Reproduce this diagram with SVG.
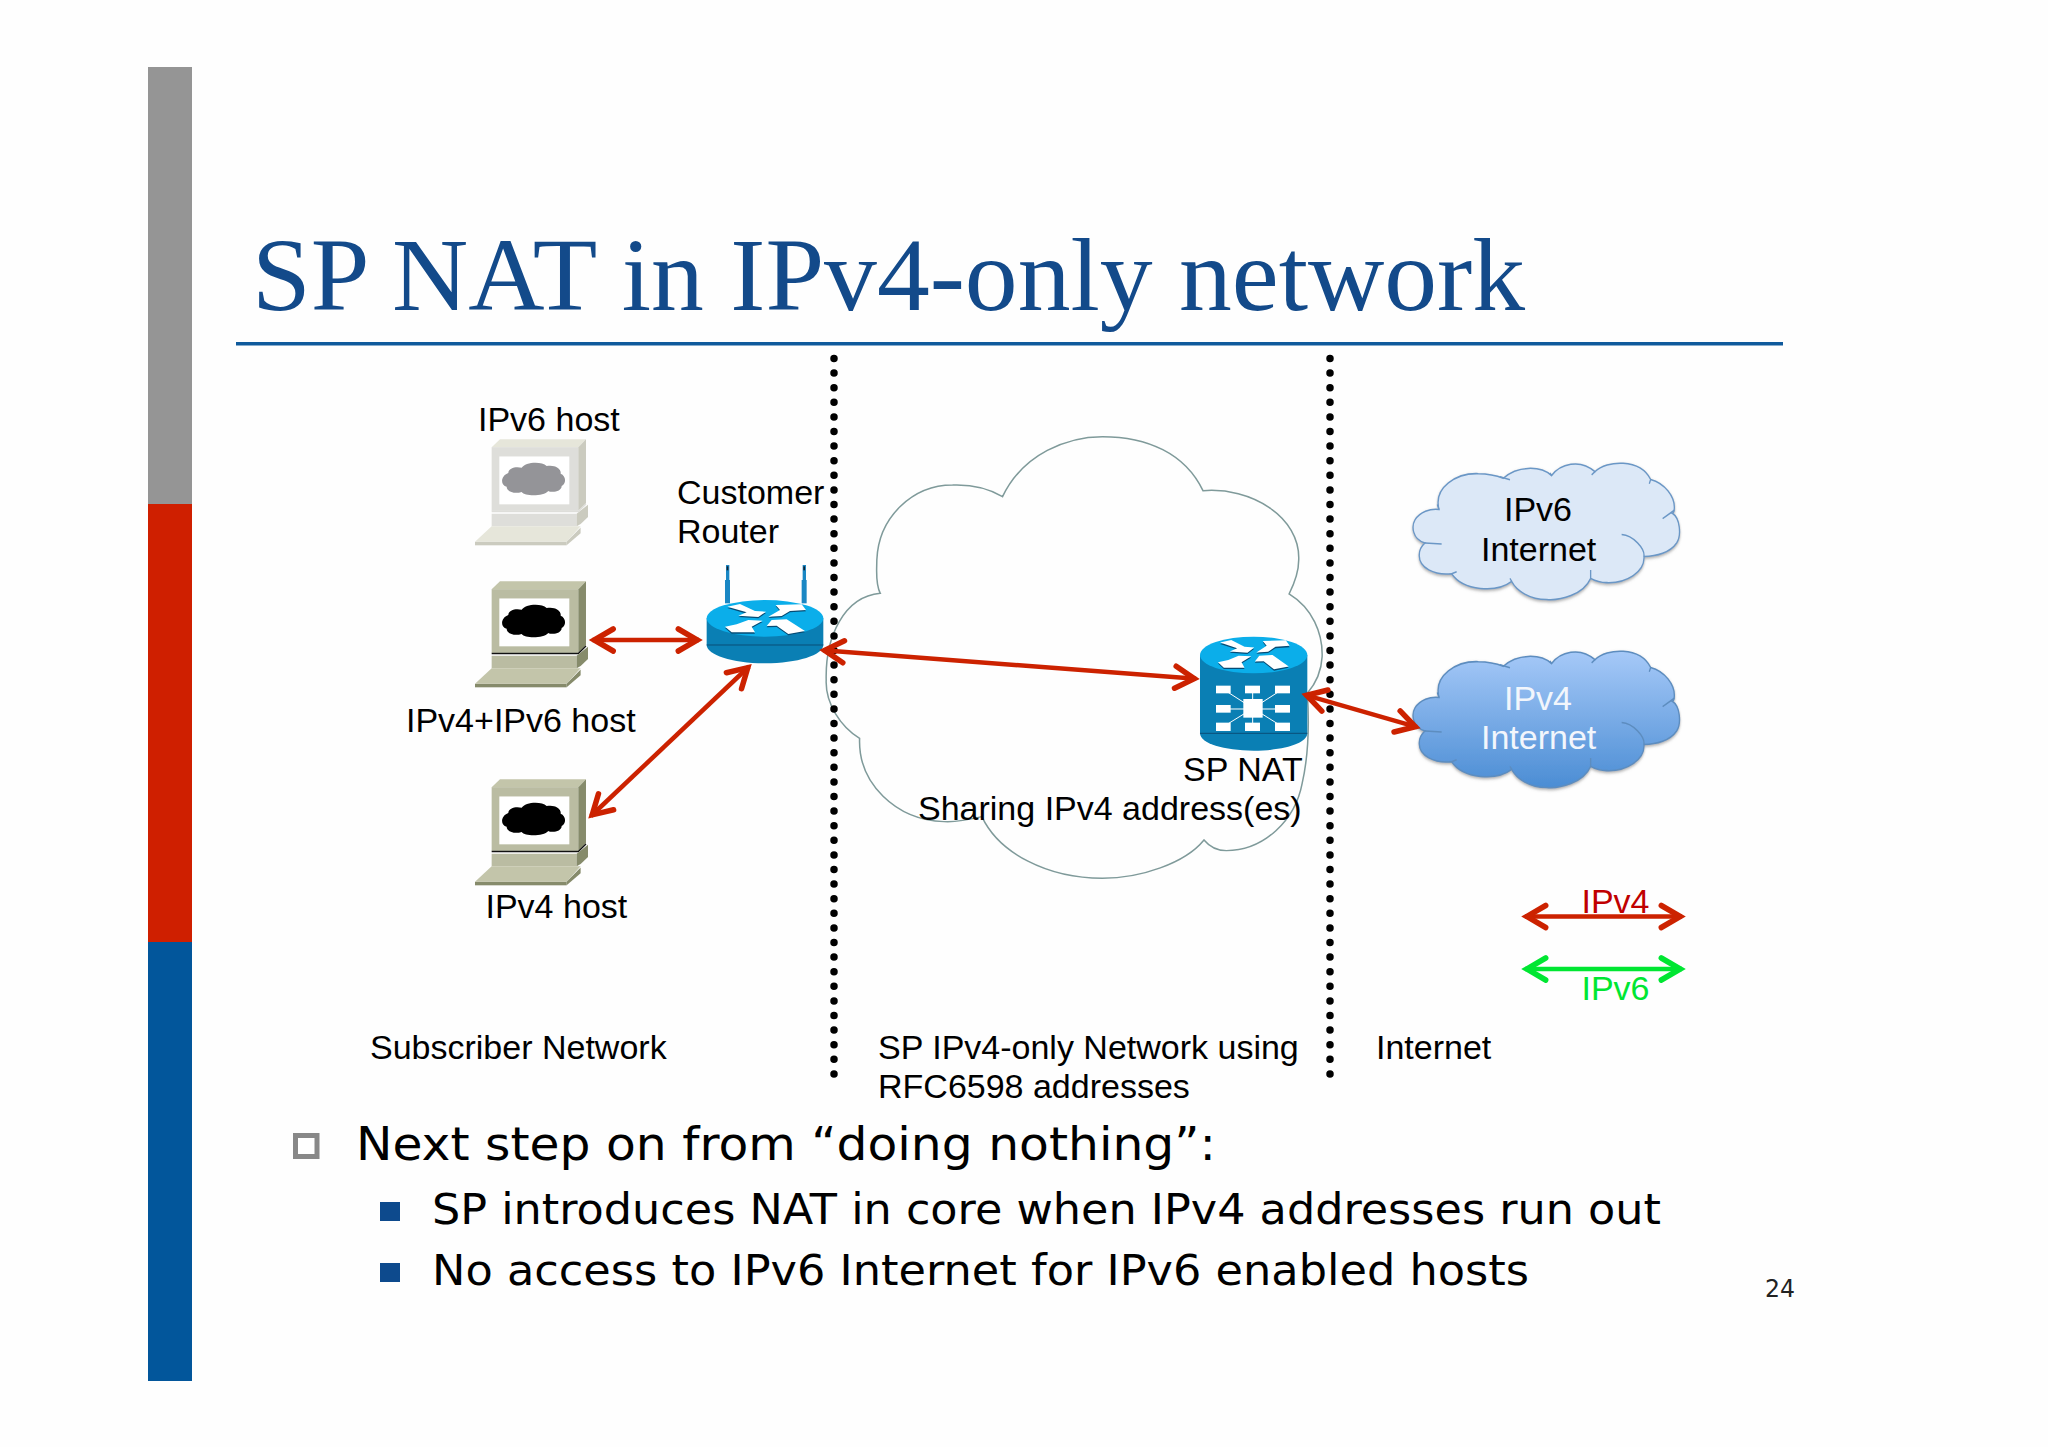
<svg xmlns="http://www.w3.org/2000/svg" width="2048" height="1447" viewBox="0 0 2048 1447">
<style>
.l{font-family:"Liberation Sans",Arial,sans-serif;font-size:34px;fill:#000}
.w{fill:#f2f6fc}
.b{font-family:"DejaVu Sans",Verdana,sans-serif;fill:#000}
.t{font-family:"Liberation Serif","Times New Roman",serif;font-size:103px;fill:#134a8a}
.c{fill:none;stroke-width:4.5}
.dots{fill:none;stroke:#000;stroke-width:7.5;stroke-linecap:round;stroke-dasharray:0 14.6}
.comp-a{fill:var(--top)}.comp-b{fill:var(--front)}.comp-c{fill:var(--side)}.comp-d{fill:var(--cloud)}
.comp-e{fill:none;stroke:var(--edge);stroke-width:4}
.rt{fill:#0baeea}.rs{fill:#0a7fb4}.re{fill:none;stroke:#0a4e78;stroke-width:3}
.ci{fill:none;stroke:#6b97c6;stroke-width:4}
</style>
<defs>
<marker id="hr" viewBox="-26 -16 32 32" refX="0.7" refY="0" markerWidth="32" markerHeight="32" markerUnits="userSpaceOnUse" orient="auto-start-reverse"><path d="M-20,-11 L-1,0 L-20,11" fill="none" stroke="#cc2200" stroke-width="5.5" stroke-linecap="round"/></marker>
<marker id="hg" viewBox="-26 -16 32 32" refX="0.7" refY="0" markerWidth="32" markerHeight="32" markerUnits="userSpaceOnUse" orient="auto-start-reverse"><path d="M-20,-11 L-1,0 L-20,11" fill="none" stroke="#00e632" stroke-width="5.5" stroke-linecap="round"/></marker>
<linearGradient id="g4" x1="0" y1="0" x2="0" y2="1"><stop offset="0" stop-color="#a6c9f8"/><stop offset="1" stop-color="#4b8dd4"/></linearGradient>
<filter id="sh" x="-10%" y="-10%" width="120%" height="130%"><feDropShadow dx="0" dy="4" stdDeviation="3.500" flood-color="#666" flood-opacity=".55"/></filter>
<g id="computer">
<polygon class="comp-a" points="155,195 180,172 438,172 415,195"/>
<rect class="comp-b" x="155" y="195" width="260" height="185"/>
<polygon class="comp-c" points="415,195 438,172 438,358 415,380"/>
<rect x="178" y="222" width="210" height="139" fill="#fff"/>
<path class="comp-d" d="M205,270C205,255 230,250 245,255C255,238 305,235 320,250C340,245 365,255 362,272C378,278 380,300 365,308C365,325 335,328 325,322C310,338 255,338 245,325C225,332 200,325 200,310C180,305 182,278 205,270Z"/>
<path class="comp-e" d="M155,382H415L438,360"/>
<polygon class="comp-b" points="155,388 410,388 410,425 155,425"/>
<polygon class="comp-c" points="410,388 444,362 444,398 422,418 410,425"/>
<polygon class="comp-a" points="105,470 155,425 422,425 380,470"/>
<rect class="comp-c" x="105" y="470" width="275" height="10"/>
<polygon class="comp-c" points="380,470 422,428 422,445 380,480"/>
</g>
<g id="arrows4">
<polygon points="112,155 150,147 195,168 228,170 205,186 145,182 170,172"/>
<polygon points="235,185 270,165 257,150 335,148 348,165 300,168 275,183"/>
<polygon points="105,215 140,208 175,195 218,197 185,215 195,232 125,232"/>
<polygon points="230,213 245,195 290,193 345,228 295,237 260,212"/>
</g>
<path id="cl" d="M297,183C280,125 350,88 415,90C445,90 470,95 490,102C530,70 600,68 635,95C660,65 720,50 765,85C800,55 900,50 932,105C975,115 1005,150 1003,180C1003,188 1000,192 997,193C1020,205 1025,250 1010,270C990,295 950,305 912,305C915,345 860,375 800,373C785,373 765,368 752,362C730,405 660,420 620,417C570,417 530,395 515,370C470,400 370,395 335,350C285,355 235,335 238,300C238,285 245,278 255,270C215,260 215,225 225,210C240,190 270,180 297,183Z"/>
<path id="cli" d="M297,183L292,170M480,98L510,106M635,95L630,88M765,85L755,93M932,105L928,116M968,207L1003,185M845,248C880,250 915,285 912,305M752,362L752,340M515,370L510,362M335,350L350,345M255,270L305,273"/>
</defs>
<rect width="2048" height="1447" fill="#fefefe"/>
<g id="sidebar">
<rect x="148" y="67" width="44" height="437" fill="#959595"/>
<rect x="148" y="504" width="44" height="438" fill="#cf1f00"/>
<rect x="148" y="942" width="44" height="439" fill="#02569b"/>
</g>
<g id="title">
<text class="t" x="252" y="310" textLength="1273" lengthAdjust="spacingAndGlyphs">SP NAT in IPv4-only network</text>
<rect x="236" y="342" width="1547" height="3.500" fill="#0f5a9c"/>
</g>
<g id="sp-cloud" transform="translate(820,420) scale(.3444,.3333)">
<path fill="none" stroke="#7f9a9a" stroke-width="4.4" d="M530,230C590,100 720,50 820,50C950,50 1060,100 1112,212C1250,200 1395,290 1390,420C1390,460 1375,495 1362,522C1430,565 1460,640 1458,710C1456,750 1440,790 1415,820C1420,900 1420,1000 1400,1090C1380,1200 1290,1292 1180,1292C1155,1292 1135,1285 1115,1260C1060,1330 930,1375 820,1375C660,1375 520,1300 470,1190C430,1200 390,1207 360,1205C220,1200 110,1090 115,955C60,920 15,850 18,780C15,650 70,530 175,520C160,490 165,450 165,420C170,290 270,195 385,195C440,193 490,205 530,230Z"/>
</g>
<g id="zone-dividers">
<path class="dots" d="M834,358.500V1076"/>
<path class="dots" d="M1330,358.500V1076"/>
</g>
<g id="host-ipv6">
<g transform="translate(440,380) scale(.3333,.3444)" style="--top:#e6e6da;--front:#dededa;--side:#cbcbbf;--cloud:#949498;--edge:#dededa"><use href="#computer"/></g>
<text class="l" x="478" y="431">IPv6 host</text>
</g>
<g id="host-dual">
<g transform="translate(440,522) scale(.3333,.3444)" style="--top:#c3c5aa;--front:#babca2;--side:#868b6b;--cloud:#000;--edge:#111"><use href="#computer"/></g>
<text class="l" x="406" y="732">IPv4+IPv6 host</text>
</g>
<g id="host-ipv4">
<g transform="translate(440,720) scale(.3333,.3444)" style="--top:#c3c5aa;--front:#babca2;--side:#868b6b;--cloud:#000;--edge:#111"><use href="#computer"/></g>
<text class="l" x="485.500" y="918">IPv4 host</text>
</g>
<g id="customer-router">
<g transform="translate(690,555) scale(.3333)">
<rect x="105" y="75" width="15" height="70" fill="#1a87c4"/><rect x="335" y="75" width="15" height="70" fill="#1a87c4"/>
<rect x="108" y="30" width="10" height="46" fill="#1a87c4"/><rect x="338" y="30" width="10" height="46" fill="#1a87c4"/>
<rect x="110" y="34" width="5" height="12" fill="#123"/><rect x="340" y="34" width="5" height="12" fill="#123"/>
<path class="rs" d="M50,190V270C50,300 128,325 225,325C322,325 400,300 400,270V190Z"/>
<ellipse class="rt" cx="225" cy="190" rx="175" ry="55"/>
<path class="re" d="M50,270H400"/>
<use href="#arrows4" fill="#064b74" transform="translate(0,4)"/>
<use href="#arrows4" fill="#fff"/>
</g>
<text class="l" x="677" y="504">Customer</text>
<text class="l" x="677" y="543">Router</text>
</g>
<g id="sp-nat">
<g transform="translate(1190,630) scale(.3333)">
<path class="rs" d="M30,75V310C30,340 102,362 191,362C280,362 352,340 352,310V75Z"/>
<ellipse class="rt" cx="191" cy="75" rx="161" ry="55"/>
<path class="re" d="M30,310H352"/>
<g transform="translate(191,74) scale(.885,.98) translate(-226,-192)"><use href="#arrows4" fill="#064b74" transform="translate(0,4)"/><use href="#arrows4" fill="#fff"/></g>
<path d="M100,178L189,235M188,178V235M277,178L189,235M100,237H277M100,290L189,235M188,290V235M277,290L189,235" stroke="#fff" stroke-width="3" fill="none"/>
<g fill="#fff">
<rect x="78" y="167" width="44" height="23"/><rect x="165" y="167" width="45" height="23"/><rect x="255" y="167" width="45" height="23"/>
<rect x="78" y="225" width="44" height="23"/><rect x="255" y="225" width="45" height="23"/>
<rect x="78" y="278" width="44" height="25"/><rect x="165" y="278" width="45" height="25"/><rect x="255" y="278" width="45" height="25"/>
<rect x="160" y="207" width="58" height="56"/>
</g>
</g>
<text class="l" x="1183" y="781">SP NAT</text>
<text class="l" x="918" y="820">Sharing IPv4 address(es)</text>
</g>
<g id="ipv6-internet">
<g transform="translate(1340,439) scale(.3333,.385)">
<use href="#cl" fill="#dce8f7" stroke="#6b97c6" stroke-width="4" filter="url(#sh)"/>
<use href="#cli" class="ci"/>
</g>
<text class="l" x="1504" y="521">IPv6</text>
<text class="l" x="1481" y="561">Internet</text>
</g>
<g id="ipv4-internet">
<g transform="translate(1340,627) scale(.3333,.385)">
<use href="#cl" fill="url(#g4)" stroke="#5d8dbf" stroke-width="4" filter="url(#sh)"/>
<use href="#cli" fill="none" stroke="#5d8dbf" stroke-width="4"/>
</g>
<text class="l w" x="1504" y="710">IPv4</text>
<text class="l w" x="1481" y="749">Internet</text>
</g>
<g id="connectors">
<line class="c" x1="592.500" y1="640" x2="699" y2="640" stroke="#cc2200" marker-start="url(#hr)" marker-end="url(#hr)"/>
<line class="c" x1="591" y1="816" x2="749" y2="666.500" stroke="#cc2200" marker-start="url(#hr)" marker-end="url(#hr)"/>
<line class="c" x1="823" y1="650.200" x2="1196" y2="678.800" stroke="#cc2200" marker-start="url(#hr)" marker-end="url(#hr)"/>
<line class="c" x1="1305" y1="694.800" x2="1417" y2="727.200" stroke="#cc2200" marker-start="url(#hr)" marker-end="url(#hr)"/>
<line class="c" x1="1525" y1="916.500" x2="1682" y2="916.500" stroke="#cc2200" marker-start="url(#hr)" marker-end="url(#hr)"/>
<line class="c" x1="1525" y1="969" x2="1682" y2="969" stroke="#00e632" marker-start="url(#hg)" marker-end="url(#hg)"/>
</g>
<g id="legend-labels">
<text class="l" x="1581.500" y="913" style="fill:#c00000">IPv4</text>
<text class="l" x="1581.500" y="1000" style="fill:#00e632">IPv6</text>
</g>
<g id="zone-labels">
<text class="l" x="370" y="1059">Subscriber Network</text>
<text class="l" x="878" y="1059">SP IPv4-only Network using</text>
<text class="l" x="878" y="1098">RFC6598 addresses</text>
<text class="l" x="1376" y="1059">Internet</text>
</g>
<g id="bullets">
<rect x="295.500" y="1135.500" width="21.500" height="21" fill="#fff" stroke="#888" stroke-width="5"/>
<rect x="380" y="1202" width="20" height="19" fill="#0d4a8d"/>
<rect x="380" y="1263" width="20" height="19" fill="#0d4a8d"/>
<text class="b" x="356" y="1160" font-size="47" textLength="860" lengthAdjust="spacingAndGlyphs">Next step on from “doing nothing”:</text>
<text class="b" x="432" y="1224" font-size="42" textLength="1229" lengthAdjust="spacingAndGlyphs">SP introduces NAT in core when IPv4 addresses run out</text>
<text class="b" x="432" y="1285" font-size="42" textLength="1097" lengthAdjust="spacingAndGlyphs">No access to IPv6 Internet for IPv6 enabled hosts</text>
<text class="b" x="1765" y="1297" font-size="24" textLength="30" lengthAdjust="spacingAndGlyphs" style="fill:#222">24</text>
</g>
</svg>
